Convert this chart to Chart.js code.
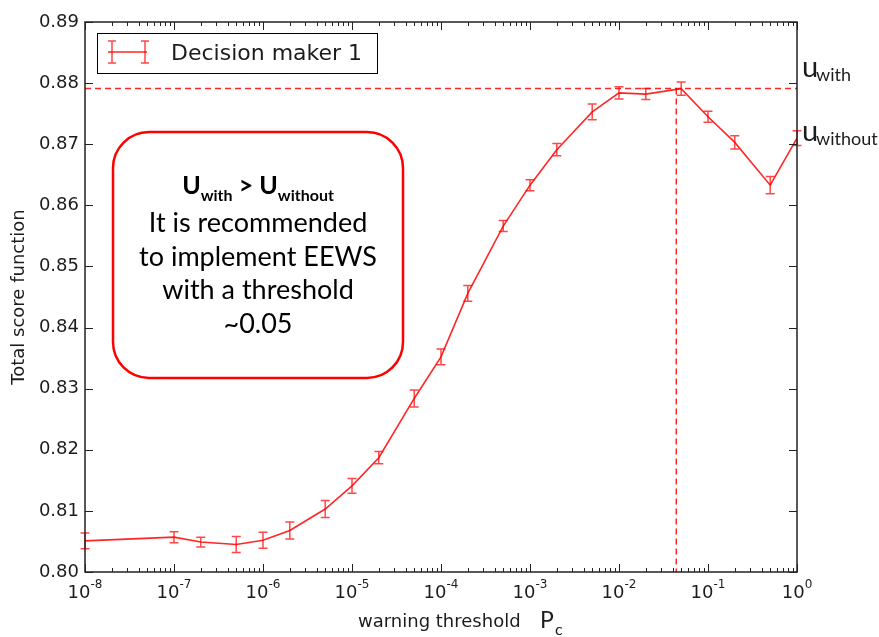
<!DOCTYPE html>
<html>
<head>
<meta charset="utf-8">
<script src="https://cdn.jsdelivr.net/npm/chart.js@4.4.0/dist/chart.umd.min.js"></script>
<style>
  html, body { margin: 0; padding: 0; background: #fff; }
  #wrap { width: 879px; height: 637px; position: relative; }
</style>
</head>
<body>
<div id="wrap"><canvas id="chart"></canvas></div>
<script>
// data
const thresholds = [1e-8, 1e-7, 2e-7, 5e-7, 1e-6, 2e-6, 5e-6, 1e-5, 2e-5, 5e-5, 1e-4, 2e-4,
                    5e-4, 1e-3, 2e-3, 5e-3, 1e-2, 2e-2, 5e-2, 1e-1, 2e-1, 5e-1, 1];
const scores = [0.8051, 0.8057, 0.8049, 0.8045, 0.8052, 0.8068, 0.8103, 0.8141, 0.8187, 0.8284, 0.8352, 0.8456,
                0.8566, 0.8633, 0.8691, 0.8753, 0.8784, 0.8782, 0.8791, 0.8745, 0.8703, 0.8633, 0.8710];
const errors = [0.0013, 0.0009, 0.0008, 0.0013, 0.0013, 0.0014, 0.0014, 0.0012, 0.0010, 0.0014, 0.0013, 0.0013,
                0.0009, 0.0009, 0.0010, 0.0013, 0.0010, 0.0009, 0.0011, 0.0009, 0.0011, 0.0014, 0.0012];
const yTicks = [0.80, 0.81, 0.82, 0.83, 0.84, 0.85, 0.86, 0.87, 0.88, 0.89];
const xDecades = [-8, -7, -6, -5, -4, -3, -2, -1, 0];
const uWith = 0.8791;
const uWithout = 0.8710;
const bestThreshold = 0.044;
const seriesLabel = 'Decision maker 1';
const boxLines = ['It is recommended', 'to implement EEWS', 'with a threshold', '~0.05'];

const RED = 'rgba(255,0,0,0.85)';
const ERR = 'rgba(255,0,0,0.72)';
const INK = '#1c1c1c';
const DJ = '"DejaVu Sans", sans-serif';
const LATO = 'Lato, "Open Sans", sans-serif';

const points = thresholds.map((t, i) => ({ x: t, y: scores[i] }));

// error bars, frame, inside ticks and all the extra text
const extras = {
  id: 'extras',
  afterDatasetsDraw(chart) {
    const ctx = chart.ctx;
    const xs = chart.scales.x, ys = chart.scales.y;
    ctx.save();
    ctx.strokeStyle = ERR;
    ctx.lineWidth = 1.5;
    thresholds.forEach((t, i) => {
      const px = xs.getPixelForValue(t);
      const top = ys.getPixelForValue(scores[i] + errors[i]);
      const bot = ys.getPixelForValue(scores[i] - errors[i]);
      ctx.beginPath();
      ctx.moveTo(px, top); ctx.lineTo(px, bot);
      ctx.moveTo(px - 4.5, top); ctx.lineTo(px + 4.5, top);
      ctx.moveTo(px - 4.5, bot); ctx.lineTo(px + 4.5, bot);
      ctx.stroke();
    });
    ctx.restore();
  },
  afterDraw(chart) {
    const ctx = chart.ctx;
    const a = chart.chartArea;
    const xs = chart.scales.x, ys = chart.scales.y;
    ctx.save();

    // frame
    ctx.strokeStyle = '#222';
    ctx.lineWidth = 1.5;
    ctx.strokeRect(a.left, a.top, a.right - a.left, a.bottom - a.top);

    // x ticks (inside, top and bottom)
    ctx.lineWidth = 1;
    ctx.beginPath();
    xDecades.forEach(d => {
      const base = Math.pow(10, d);
      const px = Math.round(xs.getPixelForValue(base)) + 0.5;
      ctx.moveTo(px, a.bottom); ctx.lineTo(px, a.bottom - 8);
      ctx.moveTo(px, a.top); ctx.lineTo(px, a.top + 8);
      if (d < 0) {
        for (let k = 2; k <= 9; k++) {
          const mx = Math.round(xs.getPixelForValue(k * base)) + 0.5;
          ctx.moveTo(mx, a.bottom); ctx.lineTo(mx, a.bottom - 4);
          ctx.moveTo(mx, a.top); ctx.lineTo(mx, a.top + 4);
        }
      }
    });
    // y ticks (inside, left and right)
    yTicks.forEach(v => {
      const py = Math.round(ys.getPixelForValue(v)) + 0.5;
      ctx.moveTo(a.left, py); ctx.lineTo(a.left + 8, py);
      ctx.moveTo(a.right, py); ctx.lineTo(a.right - 8, py);
    });
    ctx.stroke();

    // x tick labels 10^d
    ctx.fillStyle = INK;
    ctx.textBaseline = 'alphabetic';
    ctx.textAlign = 'left';
    xDecades.forEach(d => {
      const px = xs.getPixelForValue(Math.pow(10, d));
      ctx.font = '18px ' + DJ;
      const w1 = ctx.measureText('10').width;
      ctx.font = '12px ' + DJ;
      const e = String(d);
      const w2 = ctx.measureText(e).width;
      const x0 = px - (w1 + w2) / 2;
      ctx.font = '18px ' + DJ;
      ctx.fillText('10', x0, a.bottom + 26);
      ctx.font = '12px ' + DJ;
      ctx.fillText(e, x0 + w1, a.bottom + 16);
    });

    // axis titles
    ctx.font = '18px ' + DJ;
    ctx.fillText('warning threshold', 358, 627);
    ctx.font = '23px ' + LATO;
    ctx.fillText('P', 540, 628);
    ctx.font = '16px ' + LATO;
    ctx.fillText('c', 555, 635);

    ctx.save();
    ctx.translate(24, 297);
    ctx.rotate(-Math.PI / 2);
    ctx.textAlign = 'center';
    ctx.font = '18px ' + DJ;
    ctx.fillText('Total score function', 0, 0);
    ctx.restore();

    // u labels on the right
    const uy1 = ys.getPixelForValue(uWith) - 12;
    const uy2 = ys.getPixelForValue(uWithout) + 3;
    [[uy1, 'with'], [uy2, 'without']].forEach(([y, sub]) => {
      ctx.font = '29px ' + LATO;
      ctx.fillText('u', 802, y);
      ctx.font = '18px ' + LATO;
      ctx.fillText(sub, 816, y + 4);
    });

    // legend
    ctx.strokeStyle = '#000';
    ctx.lineWidth = 1;
    ctx.strokeRect(97.5, 33.5, 280, 40);
    ctx.strokeStyle = RED;
    ctx.lineWidth = 1.5;
    ctx.beginPath();
    ctx.moveTo(108, 52); ctx.lineTo(147, 52);
    ctx.stroke();
    ctx.strokeStyle = ERR;
    ctx.beginPath();
    [112, 145].forEach(x => {
      ctx.moveTo(x, 41); ctx.lineTo(x, 63);
      ctx.moveTo(x - 4, 41); ctx.lineTo(x + 4, 41);
      ctx.moveTo(x - 4, 63); ctx.lineTo(x + 4, 63);
    });
    ctx.stroke();
    ctx.fillStyle = INK;
    ctx.font = '22px ' + DJ;
    ctx.fillText(chart.data.datasets[0].label, 171, 60);

    // recommendation box
    const bx = 113, by = 132, bw = 290, bh = 246, r = 36;
    ctx.strokeStyle = '#ff0000';
    ctx.lineWidth = 2.5;
    ctx.beginPath();
    ctx.roundRect(bx, by, bw, bh, r);
    ctx.stroke();

    const cx = bx + bw / 2;
    ctx.fillStyle = '#000';
    // first line: U_with > U_without
    const parts = [['U', 'bold 25px ', 0], ['with', 'bold 16px ', 7], [' > ', 'bold 25px ', 0],
                   ['U', 'bold 25px ', 0], ['without', 'bold 16px ', 7]];
    let tw = 0;
    parts.forEach(p => { ctx.font = p[1] + LATO; tw += ctx.measureText(p[0]).width; });
    let x = cx - tw / 2;
    parts.forEach(p => {
      ctx.font = p[1] + LATO;
      ctx.fillText(p[0], x, 194 + p[2]);
      x += ctx.measureText(p[0]).width;
    });
    ctx.textAlign = 'center';
    ctx.font = '27px ' + LATO;
    boxLines.forEach((s, i) => ctx.fillText(s, cx, 232 + i * 33.7));

    ctx.restore();
  }
};

new Chart(document.getElementById('chart'), {
  type: 'scatter',
  data: {
    datasets: [
      {
        label: seriesLabel,
        data: points,
        showLine: true,
        borderColor: RED,
        backgroundColor: RED,
        borderWidth: 1.6,
        pointRadius: 0,
        tension: 0
      },
      {
        label: 'u_with',
        data: [{ x: thresholds[0], y: uWith }, { x: thresholds[thresholds.length - 1], y: uWith }],
        showLine: true,
        borderColor: RED,
        borderWidth: 1.5,
        borderDash: [6, 4],
        pointRadius: 0
      },
      {
        label: 'threshold',
        data: [{ x: bestThreshold, y: uWith }, { x: bestThreshold, y: yTicks[0] }],
        showLine: true,
        borderColor: RED,
        borderWidth: 1.5,
        borderDash: [6, 4],
        pointRadius: 0
      }
    ]
  },
  options: {
    responsive: true,
    maintainAspectRatio: false,
    animation: false,
    layout: { padding: { top: 22, right: 82, left: 0, bottom: 0 } },
    plugins: { legend: { display: false }, tooltip: { enabled: false } },
    scales: {
      x: {
        type: 'logarithmic',
        min: 1e-8,
        max: 1,
        grid: { display: false, drawTicks: false },
        border: { display: false },
        ticks: { display: false },
        afterFit(scale) { scale.height = 65; }
      },
      y: {
        min: yTicks[0],
        max: yTicks[yTicks.length - 1],
        grid: { display: false, drawTicks: false },
        border: { display: false },
        afterBuildTicks(scale) { scale.ticks = yTicks.map(v => ({ value: v })); },
        ticks: {
          padding: 6,
          color: INK,
          font: { family: 'DejaVu Sans', size: 18 },
          callback: v => v.toFixed(2)
        },
        afterFit(scale) { scale.width = 85; }
      }
    }
  },
  plugins: [extras]
});
</script>
</body>
</html>
